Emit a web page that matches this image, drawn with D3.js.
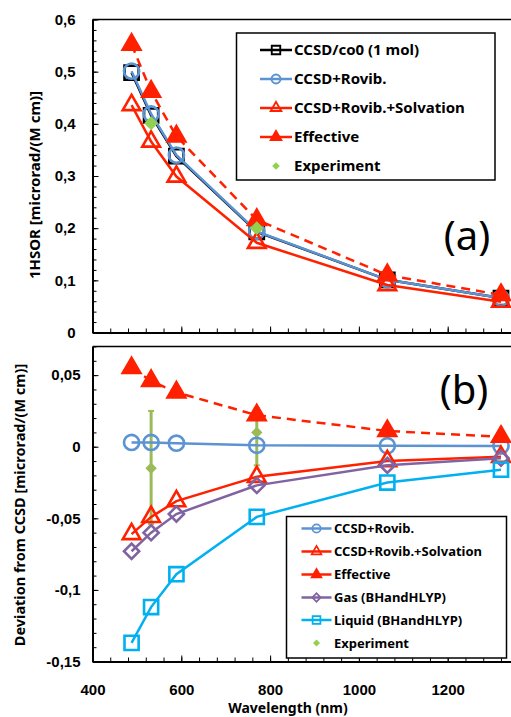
<!DOCTYPE html>
<html>
<head>
<meta charset="utf-8">
<script src="https://cdn.jsdelivr.net/npm/d3@7"></script>
<style>
  body { margin: 0; background: #fff; }
  svg { display: block; font-family: "Noto Sans", sans-serif; }
  .tick text { font-weight: bold; font-size: 15px; fill: #000; }
  .axis path, .axis line { stroke: #000; }
</style>
</head>
<body>
<div id="chart"></div>
<script>
// wavelengths (nm)
const wavelengths = [488, 532, 589, 770, 1064, 1320];

// panel (a): 1HSOR [microrad/(M cm)]
const ccsdCo0 = [0.498, 0.416, 0.338, 0.193, 0.101, 0.066];
const ccsdRovib = [0.501, 0.419, 0.340, 0.194, 0.101, 0.066];
const ccsdSolvation = [0.436, 0.366, 0.299, 0.172, 0.091, 0.059];
const effective = [0.552, 0.462, 0.376, 0.216, 0.110, 0.072];
const expWavelengths = [532, 770];
const experiment = [0.401, 0.200];

// panel (b): deviation from CCSD
const devRovib = [0.003, 0.003, 0.0025, 0.001, 0.0007, 0.0005];
const devSolvation = [-0.061, -0.049, -0.038, -0.021, -0.010, -0.007];
const devEffective = [0.055, 0.046, 0.038, 0.022, 0.011, 0.007];
const devGas = [-0.073, -0.060, -0.047, -0.027, -0.013, -0.008];
const devLiquid = [-0.137, -0.112, -0.089, -0.049, -0.025, -0.016];
const devExperiment = [-0.015, 0.010];
const devExpLow = [-0.054, -0.013];
const devExpHigh = [0.025, 0.027];

// tick values (1400 sits past the cropped right edge, no label shown)
const xTicks = [400, 600, 800, 1000, 1200, 1400];
const xTickLabels = ['400', '600', '800', '1000', '1200', ''];
const yTicksA = [0, 0.1, 0.2, 0.3, 0.4, 0.5, 0.6];
const yTicksB = [-0.15, -0.1, -0.05, 0, 0.05];

const RED = '#FF2000', BLUE = '#5B93D3', PURPLE = '#8064A2', CYAN = '#00B0F0',
  OLIVE = '#9BBB59', GREEN = '#92D050';

const W = 511, H = 717;
const svg = d3.select('#chart').append('svg').attr('width', W).attr('height', H);

const x = d3.scaleLinear().domain([400, 1400]).range([92.5, 536.5]);
const yA = d3.scaleLinear().domain([0, 0.6]).range([332.5, 19.5]);
const yB = d3.scaleLinear().domain([-0.15, 0.07]).range([661.5, 346.5]);

const commaFmt = (d) => String(+d.toFixed(2)).replace('.', ',');

function range(a, b, step) {
  const out = [];
  for (let v = a; v <= b + 1e-9; v += step) out.push(+v.toFixed(4));
  return out;
}

function drawAxes(y, yTicks, minorStep, yPad, showXLabels) {
  const [y0, y1] = y.domain();
  // top frame line
  svg.append('line')
    .attr('x1', x.range()[0]).attr('x2', W)
    .attr('y1', y.range()[1]).attr('y2', y.range()[1])
    .attr('stroke', '#000').attr('stroke-width', 1.5);

  const base = y.range()[0];
  // x minor ticks
  svg.append('g').attr('class', 'axis')
    .attr('transform', 'translate(0,' + base + ')')
    .call(d3.axisBottom(x).tickValues(range(400, 1400, 40)).tickSize(-4).tickSizeOuter(0).tickFormat(''))
    .call(g => g.select('.domain').remove());
  // x major ticks
  const gx = svg.append('g').attr('class', 'axis')
    .attr('transform', 'translate(0,' + base + ')')
    .call(d3.axisBottom(x).tickValues(xTicks).tickSize(-6).tickSizeOuter(0).tickPadding(23)
      .tickFormat((d, i) => showXLabels ? xTickLabels[i] : ''));
  gx.select('.domain').attr('stroke-width', 2);

  // y minor ticks
  svg.append('g').attr('class', 'axis')
    .attr('transform', 'translate(' + x.range()[0] + ',0)')
    .call(d3.axisLeft(y).tickValues(range(y0, y1, minorStep)).tickSize(-4).tickSizeOuter(0).tickFormat(''))
    .call(g => g.select('.domain').remove());
  // y major ticks
  const gy = svg.append('g').attr('class', 'axis')
    .attr('transform', 'translate(' + x.range()[0] + ',0)')
    .call(d3.axisLeft(y).tickValues(yTicks).tickSize(-6).tickSizeOuter(0).tickPadding(yPad).tickFormat(commaFmt));
  gy.select('.domain').attr('stroke-width', 2);
}

function marker(g, type, cx, cy, color, scale) {
  const s = scale || 1;
  const sw = 2.6 * Math.min(1, s * 1.2);
  if (type === 'square') {
    g.append('path').attr('d', d3.symbol(d3.symbolSquare, 200 * s * s)())
      .attr('transform', `translate(${cx},${cy})`)
      .attr('fill', 'none').attr('stroke', color).attr('stroke-width', sw);
  } else if (type === 'circle') {
    g.append('path').attr('d', d3.symbol(d3.symbolCircle, 180 * s * s)())
      .attr('transform', `translate(${cx},${cy})`)
      .attr('fill', 'none').attr('stroke', color).attr('stroke-width', sw);
  } else if (type === 'triOpen' || type === 'triFill') {
    g.append('path').attr('d', d3.symbol(d3.symbolTriangle, 135 * s * s)())
      .attr('transform', `translate(${cx},${cy})`)
      .attr('fill', type === 'triFill' ? color : 'none')
      .attr('stroke', color).attr('stroke-width', sw).attr('stroke-linejoin', 'miter');
  } else if (type === 'diamond') {
    g.append('path').attr('d', d3.symbol(d3.symbolSquare, 115 * s * s)())
      .attr('transform', `translate(${cx},${cy}) rotate(45)`)
      .attr('fill', 'none').attr('stroke', color).attr('stroke-width', sw);
  } else if (type === 'diamondFill') {
    g.append('path').attr('d', d3.symbol(d3.symbolSquare, 80 * s * s)())
      .attr('transform', `translate(${cx},${cy}) rotate(45)`)
      .attr('fill', color);
  }
}

function series(y, xs, ys, color, type, dashed) {
  const g = svg.append('g');
  const pts = xs.map((d, i) => [x(d), y(ys[i])]);
  g.append('path').attr('d', d3.line()(pts))
    .attr('fill', 'none').attr('stroke', color).attr('stroke-width', 2.5)
    .attr('stroke-dasharray', dashed ? '9,6' : null);
  pts.forEach(p => marker(g, type, p[0], p[1], color));
}

// ---------- panel (a) ----------
drawAxes(yA, yTicksA, 0.02, 17, false);
series(yA, wavelengths, ccsdCo0, '#000', 'square');
series(yA, wavelengths, ccsdRovib, BLUE, 'circle');
series(yA, wavelengths, ccsdSolvation, RED, 'triOpen');
series(yA, wavelengths, effective, RED, 'triFill', true);
expWavelengths.forEach((w, i) => marker(svg, 'diamondFill', x(w), yA(experiment[i]), GREEN, 1.1));

// ---------- panel (b) ----------
drawAxes(yB, yTicksB, 0.01, 12, true);
const eb = svg.append('g');
expWavelengths.forEach((w, i) => {
  const cx = x(w);
  eb.append('line').attr('x1', cx).attr('x2', cx)
    .attr('y1', yB(devExpLow[i])).attr('y2', yB(devExpHigh[i]))
    .attr('stroke', OLIVE).attr('stroke-width', 3);
  [devExpLow[i], devExpHigh[i]].forEach(v => {
    eb.append('line').attr('x1', cx - 3).attr('x2', cx + 3)
      .attr('y1', yB(v)).attr('y2', yB(v)).attr('stroke', OLIVE).attr('stroke-width', 2);
  });
  marker(eb, 'diamondFill', cx, yB(devExperiment[i]), OLIVE, 0.9);
});
series(yB, wavelengths, devRovib, BLUE, 'circle');
series(yB, wavelengths, devSolvation, RED, 'triOpen');
series(yB, wavelengths, devEffective, RED, 'triFill', true);
series(yB, wavelengths, devGas, PURPLE, 'diamond');
series(yB, wavelengths, devLiquid, CYAN, 'square');

// ---------- legends ----------
function legend(box, rows, lineX, textX, fontSize, scale) {
  const g = svg.append('g');
  g.append('rect').attr('x', box[0]).attr('y', box[1])
    .attr('width', box[2]).attr('height', box[3])
    .attr('fill', '#fff').attr('stroke', '#000').attr('stroke-width', 1.5);
  rows.forEach(r => {
    if (r.line) {
      g.append('line').attr('x1', lineX[0]).attr('x2', lineX[1])
        .attr('y1', r.y).attr('y2', r.y).attr('stroke', r.color).attr('stroke-width', 2.5);
    }
    marker(g, r.type, (lineX[0] + lineX[1]) / 2, r.y, r.color, scale);
    g.append('text').attr('x', textX).attr('y', r.y).attr('dy', '0.36em')
      .attr('font-size', fontSize).attr('font-weight', 'bold').text(r.label);
  });
}

legend([236.5, 33, 258.5, 147], [
  { label: 'CCSD/co0 (1 mol)', color: '#000', type: 'square', line: true, y: 50 },
  { label: 'CCSD+Rovib.', color: BLUE, type: 'circle', line: true, y: 79 },
  { label: 'CCSD+Rovib.+Solvation', color: RED, type: 'triOpen', line: true, y: 108 },
  { label: 'Effective', color: RED, type: 'triFill', line: true, y: 137 },
  { label: 'Experiment', color: GREEN, type: 'diamondFill', line: false, y: 166 }
], [260, 292], 294, 15, 0.6);

legend([286.5, 516.5, 220, 141.5], [
  { label: 'CCSD+Rovib.', color: BLUE, type: 'circle', line: true, y: 528.5 },
  { label: 'CCSD+Rovib.+Solvation', color: RED, type: 'triOpen', line: true, y: 551.5 },
  { label: 'Effective', color: RED, type: 'triFill', line: true, y: 574.5 },
  { label: 'Gas (BHandHLYP)', color: PURPLE, type: 'diamond', line: true, y: 597.5 },
  { label: 'Liquid (BHandHLYP)', color: CYAN, type: 'square', line: true, y: 620 },
  { label: 'Experiment', color: GREEN, type: 'diamondFill', line: false, y: 643 }
], [301.5, 331.5], 334, 13, 0.55);

// ---------- labels ----------
svg.append('text').attr('x', 467).attr('y', 250).attr('text-anchor', 'middle')
  .attr('font-size', 40).text('(a)');
svg.append('text').attr('x', 464).attr('y', 404).attr('text-anchor', 'middle')
  .attr('font-size', 40).text('(b)');

svg.append('text').attr('transform', 'translate(40,185) rotate(-90)')
  .attr('text-anchor', 'middle').attr('font-size', 15).attr('font-weight', 'bold')
  .text('1HSOR [microrad/(M cm)]');
svg.append('text').attr('transform', 'translate(25,505) rotate(-90)')
  .attr('text-anchor', 'middle').attr('font-size', 14.5).attr('font-weight', 'bold')
  .text('Deviation from CCSD [microrad/(M cm)]');
svg.append('text').attr('x', 288).attr('y', 713).attr('text-anchor', 'middle')
  .attr('font-size', 14).attr('font-weight', 'bold').text('Wavelength (nm)');
</script>
</body>
</html>
